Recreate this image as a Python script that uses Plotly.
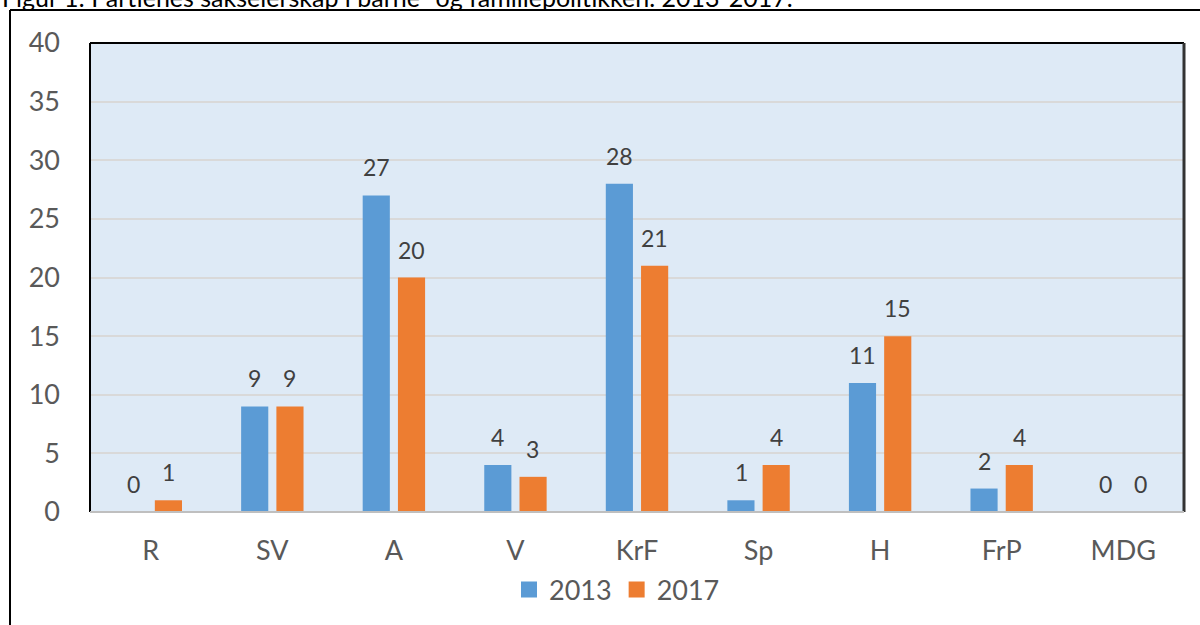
import plotly.graph_objects as go

categories = ["R", "SV", "A", "V", "KrF", "Sp", "H", "FrP", "MDG"]
values_2013 = [0, 9, 27, 4, 28, 1, 11, 2, 0]
values_2017 = [1, 9, 20, 3, 21, 4, 15, 4, 0]
series_names = ["2013", "2017"]
y_ticks = [0, 5, 10, 15, 20, 25, 30, 35, 40]
title_text = "Figur 1: Partienes sakseierskap i barne- og familiepolitikken. 2013-2017."

W, H = 1200, 625
L, R, T, B = 90, 16, 43, 113
pw, ph = W - L - R, H - T - B

def px(x):
    return (x - L) / pw

def py(y):
    return (H - B - y) / ph

FONT = "Lato, Open Sans, sans-serif"
colors = ["#5B9BD5", "#ED7D31"]

fig = go.Figure()
for name, vals, c in zip(series_names, [values_2013, values_2017], colors):
    fig.add_trace(go.Bar(
        x=categories, y=vals, name=name, marker=dict(color=c, line=dict(width=0)),
        showlegend=False, hoverinfo="skip",
    ))
# legend entries with larger square swatches
for name, c in zip(series_names, colors):
    fig.add_trace(go.Scatter(
        x=[None], y=[None], mode="markers", name=name,
        marker=dict(symbol="square", size=16, color=c), showlegend=True,
    ))

# value labels above bars
for s, vals in enumerate([values_2013, values_2017]):
    for cat, v in zip(categories, vals):
        fig.add_annotation(x=cat, y=v, xref="x", yref="y", text=str(v), showarrow=False,
                           xanchor="center", yanchor="bottom", xshift=-17.5 if s == 0 else 17.5,
                           yshift=12, font=dict(size=23, color="#404040", family=FONT))

fig.update_layout(
    width=W, height=H,
    margin=dict(l=L, r=R, t=T, b=B, pad=0, autoexpand=False),
    paper_bgcolor="white", plot_bgcolor="#DEEAF6",
    bargap=0.42, bargroupgap=0.23,
    font=dict(family=FONT, color="#595959"),
    showlegend=True,
    legend=dict(orientation="h", x=px(617), xanchor="center", y=py(590), yanchor="middle",
                font=dict(size=27, color="#595959", family=FONT), bgcolor="rgba(0,0,0,0)",
                itemwidth=30, traceorder="normal"),
    xaxis=dict(showgrid=False, ticks="", showline=False, tickfont=dict(size=27, color="#595959"),
               ticklabelstandoff=20),
    yaxis=dict(range=[0, 40], tickvals=y_ticks, showgrid=True, gridcolor="#D9D9D9", gridwidth=2,
               zeroline=False, showline=False, ticks="", tickfont=dict(size=27, color="#595959"),
               ticklabelstandoff=29),
)

shapes = [
    # plot area border
    dict(type="line", xref="paper", yref="paper", x0=0, x1=0, y0=0, y1=1, line=dict(color="black", width=2)),
    dict(type="line", xref="paper", yref="paper", x0=0, x1=1, y0=1, y1=1, line=dict(color="black", width=2)),
    dict(type="line", xref="paper", yref="paper", x0=1, x1=1, y0=0, y1=1, line=dict(color="#333333", width=3)),
    dict(type="line", xref="paper", yref="paper", x0=0, x1=1, y0=0, y1=0, line=dict(color="#BFBFBF", width=2)),
    # outer frame
    dict(type="line", xref="paper", yref="paper", x0=px(10), x1=px(1210), y0=py(10), y1=py(10), line=dict(color="black", width=2)),
    dict(type="line", xref="paper", yref="paper", x0=px(10), x1=px(10), y0=py(10), y1=py(640), line=dict(color="black", width=2)),
]
fig.update_layout(shapes=shapes)

fig.add_annotation(text=title_text, xref="paper", yref="paper", x=px(0), y=py(-3),
                   xanchor="left", yanchor="middle", showarrow=False,
                   font=dict(size=25, color="black", family=FONT))

fig.write_html("out.html", config={"displayModeBar": False},
               post_script="document.body.style.margin='0px';document.body.style.overflow='hidden';")
